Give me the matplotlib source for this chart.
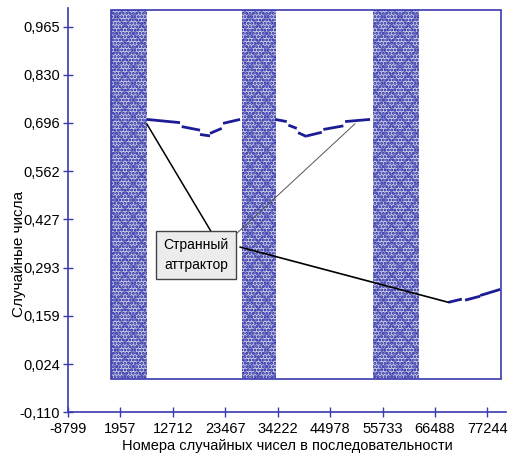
import matplotlib.pyplot as plt
from matplotlib.patches import Rectangle

plt.rcParams['font.family'] = ['Liberation Sans', 'DejaVu Sans']
plt.rcParams['hatch.linewidth'] = 1.4

# оси
y_ticks = [-0.110, 0.024, 0.159, 0.293, 0.427, 0.562, 0.696, 0.830, 0.965]
x_ticks = [-8799, 1957, 12712, 23467, 34222, 44978, 55733, 66488, 77244]

# полосы случайных чисел (начало, конец)
band_start = [0, 26906, 53787]
band_end = [7412, 33883, 63226]
band_low = -0.018
band_high = 1.011

# странный аттрактор: короткие отрезки (x0, x1), (y0, y1)
att1_x = [(7350, 14183), (14532, 18287), (18287, 20339), (20339, 22740), (23007, 26495)]
att1_y = [(0.706, 0.697), (0.686, 0.676), (0.664, 0.660), (0.667, 0.681), (0.695, 0.706)]
att2_x = [(33677, 36078), (36407, 38130), (38397, 40182), (40182, 43260), (43589, 47693), (48041, 53171)]
att2_y = [(0.706, 0.700), (0.690, 0.681), (0.669, 0.658), (0.660, 0.670), (0.678, 0.688), (0.700, 0.706)]
att3_x = [(69239, 71988), (72665, 75743), (75743, 79847)]
att3_y = [(0.196, 0.205), (0.202, 0.213), (0.215, 0.232)]

navy = '#1c1c96'
axis_blue = '#3a3ab0'

fig = plt.figure(figsize=(5.15, 4.63), dpi=100)
ax = fig.add_axes([0.132, 0.110, 0.851, 0.873])

for x0, x1 in zip(band_start, band_end):
    ax.fill_between([x0, x1], band_low, band_high, facecolor='#cdd0ec',
                    hatch='.....', edgecolor=navy, linewidth=0)
    ax.fill_between([x0, x1], band_low, band_high, facecolor='none',
                    hatch='xx', edgecolor='#3a3eb0', linewidth=0, alpha=0.55)

for xs_list, ys_list in [(att1_x, att1_y), (att2_x, att2_y), (att3_x, att3_y)]:
    for xs, ys in zip(xs_list, ys_list):
        ax.plot(xs, ys, color=navy, lw=2.0, solid_capstyle='butt')

# рамка области данных
ax.add_patch(Rectangle((0, band_low), 80000, band_high - band_low,
                       fill=False, edgecolor=axis_blue, lw=1.2))

# подпись и линии к аттракторам
box_x, box_y = 17467, 0.328
ax.annotate('', xy=(att1_x[0][0], att1_y[0][0] - 0.012), xytext=(20750, 0.389),
            arrowprops=dict(arrowstyle='-', color='black', lw=1.1, shrinkA=0, shrinkB=0))
ax.annotate('', xy=(50093, 0.694), xytext=(25880, 0.389),
            arrowprops=dict(arrowstyle='-', color='#555555', lw=0.7, shrinkA=0, shrinkB=0))
ax.annotate('', xy=(att3_x[0][0], att3_y[0][0]), xytext=(26495, 0.350),
            arrowprops=dict(arrowstyle='-', color='black', lw=1.2, shrinkA=0, shrinkB=0))
ax.text(box_x, box_y, 'Странный\nаттрактор', ha='center', va='center', fontsize=10,
        linespacing=1.55,
        bbox=dict(boxstyle='square,pad=0.5', facecolor='#ececec', edgecolor='#444444', lw=1))

ax.set_xlim(-8799, 81100)
ax.set_ylim(-0.110, 1.017)
ax.set_xticks(x_ticks)
ax.set_xticklabels([str(v) for v in x_ticks])
ax.set_yticks(y_ticks)
ax.set_yticklabels([f'{v:.3f}'.replace('.', ',') for v in y_ticks])

for side in ['top', 'right']:
    ax.spines[side].set_visible(False)
for side in ['left', 'bottom']:
    ax.spines[side].set_color(axis_blue)
    ax.spines[side].set_linewidth(1.2)
ax.tick_params(direction='inout', length=7, width=1, color=axis_blue, labelsize=10.5)
ax.tick_params(axis='y', pad=2)

ax.set_xlabel('Номера случайных чисел в последовательности', fontsize=10.5, labelpad=2)
ax.set_ylabel('Случайные числа', fontsize=11)
ax.yaxis.set_label_coords(-0.095, 0.39)

fig.savefig('out.png', dpi=100)
